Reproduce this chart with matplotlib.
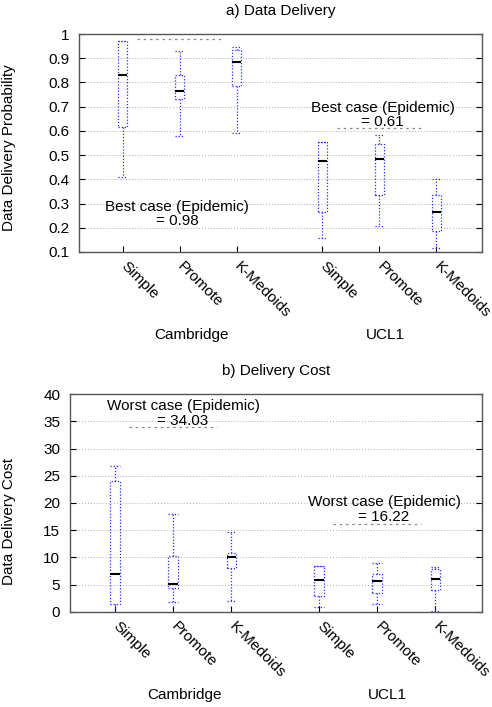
import matplotlib
matplotlib.use('Agg')
import matplotlib.pyplot as plt
from matplotlib.transforms import blended_transform_factory

plt.rcParams['font.family'] = ['Liberation Sans', 'DejaVu Sans']
plt.rcParams['font.size'] = 11

# data
methods = ['Simple', 'Promote', 'K-Medoids']
groups = ['Cambridge', 'UCL1']
positions = [1, 2, 3, 4.5, 5.5, 6.5]

# a) delivery probability
prob_whislo = [0.408, 0.58, 0.59, 0.157, 0.208, 0.118]
prob_q1 = [0.615, 0.731, 0.787, 0.263, 0.335, 0.186]
prob_med = [0.83, 0.763, 0.885, 0.475, 0.484, 0.267]
prob_q3 = [0.97, 0.83, 0.935, 0.553, 0.546, 0.336]
prob_whishi = [0.97, 0.928, 0.946, 0.553, 0.582, 0.402]
prob_epidemic = [0.98, 0.61]

# b) delivery cost
cost_whislo = [0.0, 1.84, 1.96, 0.92, 1.47, 0.18]
cost_q1 = [1.53, 4.36, 8.16, 2.88, 3.44, 3.99]
cost_med = [7.06, 5.2, 10.0, 5.95, 5.64, 6.07]
cost_q3 = [24.1, 10.2, 10.9, 8.4, 7.0, 7.8]
cost_whishi = [26.7, 17.9, 14.7, 8.4, 8.9, 8.28]
cost_epidemic = [34.03, 16.22]

group_centers = [2, 5.5]


def make_stats(lo, q1, med, q3, hi):
    return [dict(whislo=a, q1=b, med=c, q3=d, whishi=e, fliers=[])
            for a, b, c, d, e in zip(lo, q1, med, q3, hi)]


def draw_panel(ax, stats, epidemic, title, ylabel, yticks, yticklabels,
               ylim, note_word, note_pos, label_x):
    dot = (0, (1, 1.5))
    ax.bxp(stats, positions=positions, widths=0.16, capwidths=0.16,
           showfliers=False,
           boxprops=dict(color='#2a2aff', linestyle=dot, linewidth=0.9),
           whiskerprops=dict(color='#2a2aff', linestyle=dot, linewidth=0.9),
           capprops=dict(color='#2a2aff', linestyle=dot, linewidth=0.9),
           medianprops=dict(color='black', linewidth=1.5, solid_capstyle='butt'))

    # epidemic reference line + note for each data set
    for c, val, (tx, ty) in zip(group_centers, epidemic, note_pos):
        ax.hlines(val, c - 0.75, c + 0.75, colors='#888888',
                  linestyles=(0, (2, 3)), linewidth=0.9)
        ax.text(tx, ty, f'{note_word} case (Epidemic)\n= {val:.2f}',
                ha='center', va='center', linespacing=1.05)

    ax.set_xlim(0.23, 7.3)
    ax.set_ylim(*ylim)
    ax.set_yticks(yticks)
    ax.set_yticklabels(yticklabels)
    ax.set_xticks(positions)
    ax.set_xticklabels(methods * 2, rotation=-45, ha='left', va='center',
                       rotation_mode='anchor')
    ax.tick_params(axis='x', direction='in', length=4, pad=9, top=False)
    ax.tick_params(axis='y', direction='in', length=4, pad=7, right=True)
    ax.grid(axis='y', color='#aaaaaa', linestyle=(0, (1, 2)), linewidth=0.7)
    ax.set_axisbelow(True)
    for sp in ax.spines.values():
        sp.set_color('#555555')
        sp.set_linewidth(1.0)
    ax.set_title(title, pad=14, fontsize=11)
    ax.set_ylabel(ylabel)

    trans = blended_transform_factory(ax.transData, ax.transAxes)
    for gx, g in zip(label_x, groups):
        ax.text(gx, -0.381, g, transform=trans, ha='center', va='center')


fig = plt.figure(figsize=(4.92, 7.07), dpi=100)
ax1 = fig.add_axes([0.1606, 0.6436, 0.819, 0.3083])
ax2 = fig.add_axes([0.1423, 0.1344, 0.8374, 0.3083])

draw_panel(ax1, make_stats(prob_whislo, prob_q1, prob_med, prob_q3, prob_whishi),
           prob_epidemic, 'a) Data Delivery', 'Data Delivery Probability',
           [0.1, 0.2, 0.3, 0.4, 0.5, 0.6, 0.7, 0.8, 0.9, 1.0],
           ['0.1', '0.2', '0.3', '0.4', '0.5', '0.6', '0.7', '0.8', '0.9', '1'],
           (0.1, 1.0), 'Best', [(1.95, 0.257), (5.56, 0.666)], [2.21, 5.6])
ax1.yaxis.set_label_coords(-0.156, 0.477)

draw_panel(ax2, make_stats(cost_whislo, cost_q1, cost_med, cost_q3, cost_whishi),
           cost_epidemic, 'b) Delivery Cost', 'Data Delivery Cost',
           list(range(0, 41, 5)), [str(v) for v in range(0, 41, 5)],
           (0, 40), 'Worst', [(2.17, 36.4), (5.62, 18.8)], [2.19, 5.67])
ax2.yaxis.set_label_coords(-0.131, 0.413)

fig.savefig('out.png', dpi=100)
